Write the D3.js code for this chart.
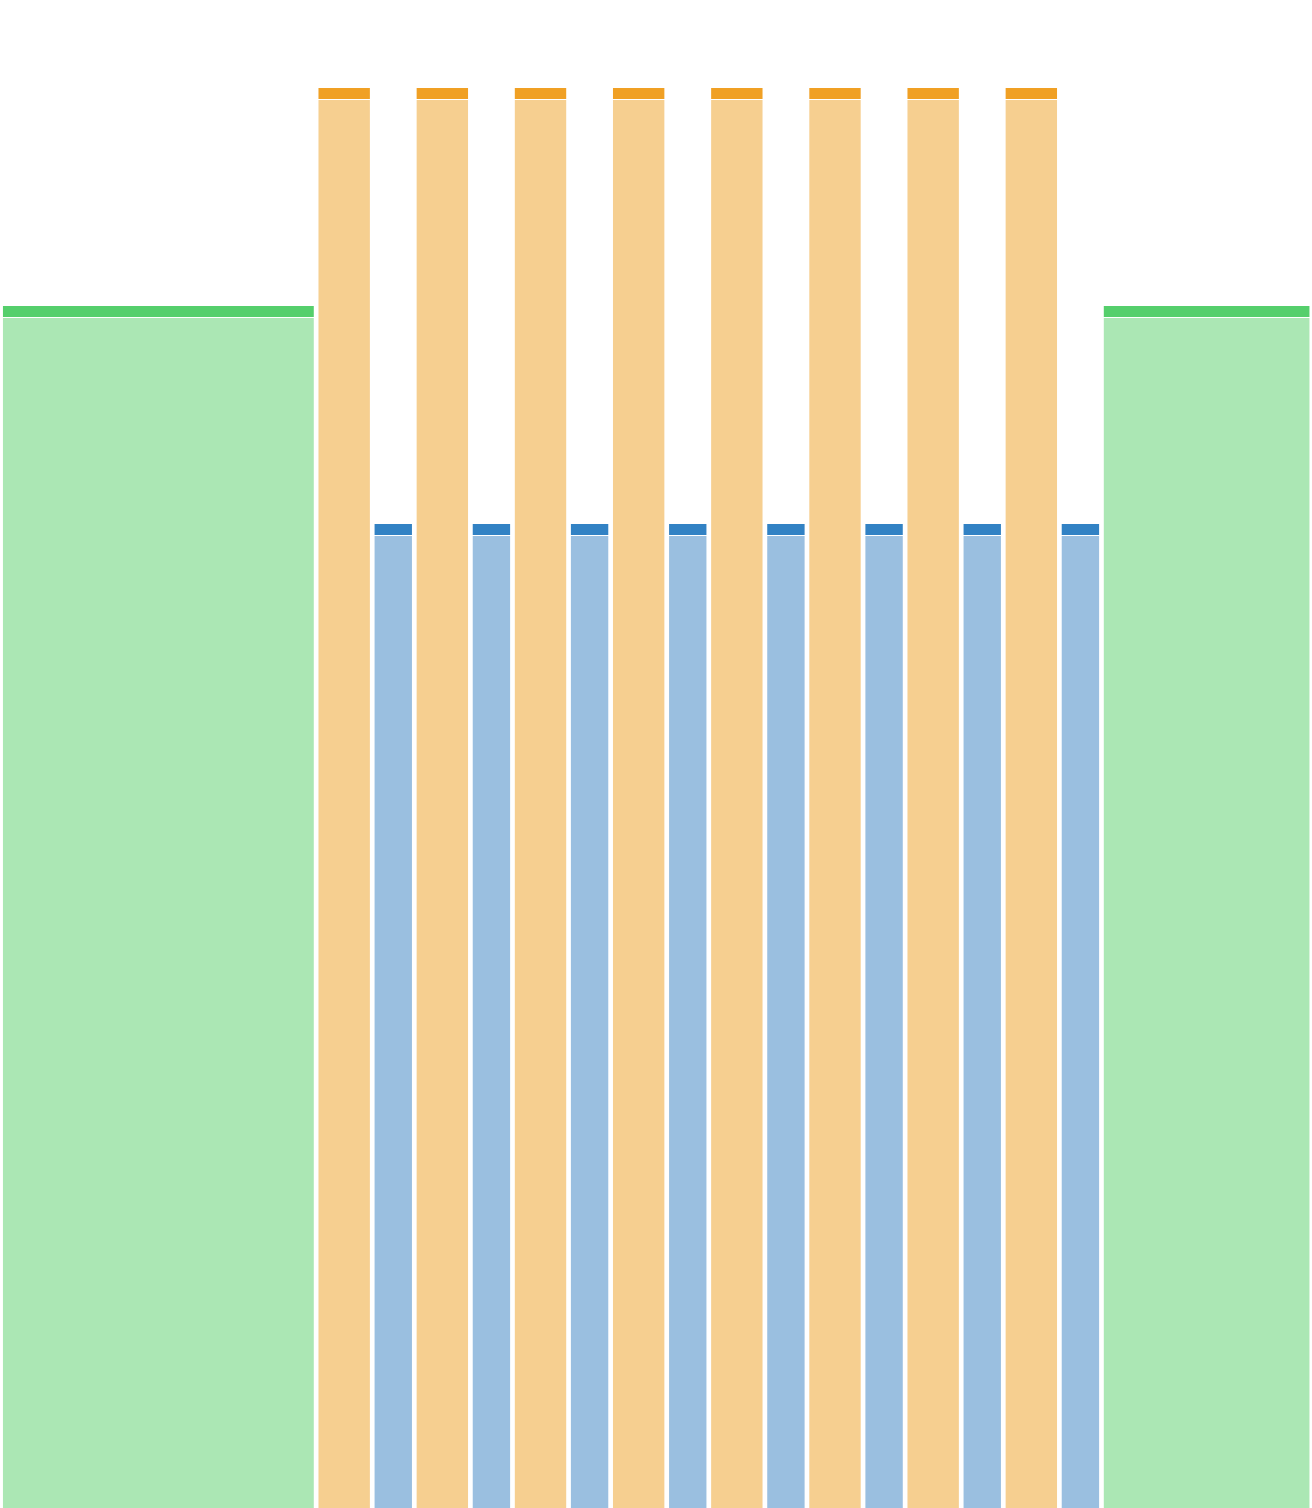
<!DOCTYPE html>
<html>
<head>
<meta charset="UTF-8">
<title>Bars</title>
<script src="https://d3js.org/d3.v7.min.js"></script>
<style>
  html, body { margin: 0; padding: 0; background: #fff; overflow: hidden; }
  svg { display: block; }
</style>
</head>
<body>
<div id="chart"></div>
<script>
// data: one entry per bar, left to right
const categories = ["A", "B1", "C1", "B2", "C2", "B3", "C3", "B4", "C4",
                    "B5", "C5", "B6", "C6", "B7", "C7", "B8", "C8", "D"];
const groups     = ["g", "o", "b", "o", "b", "o", "b", "o", "b",
                    "o", "b", "o", "b", "o", "b", "o", "b", "g"];
const widths     = [22.5, 4, 3, 4, 3, 4, 3, 4, 3, 4, 3, 4, 3, 4, 3, 4, 3, 15];
const values     = [5.5, 6.5, 4.5, 6.5, 4.5, 6.5, 4.5, 6.5, 4.5,
                    6.5, 4.5, 6.5, 4.5, 6.5, 4.5, 6.5, 4.5, 5.5];

const capColor   = { g: "#55cf6c", o: "#f0a024", b: "#3282c4" };
const fillColor  = { g: "#abe7b4", o: "#f6cf90", b: "#9abfe0" };

const width = 1312, height = 1508;
const gap = 4.7, capH = 11;

const svg = d3.select("#chart").append("svg")
  .attr("width", width)
  .attr("height", height);

// cumulative x positions
let acc = 0;
const bars = categories.map((c, i) => {
  const d = { cat: c, grp: groups[i], x0: acc, x1: acc + widths[i], v: values[i] };
  acc += widths[i];
  return d;
});

const x = d3.scaleLinear().domain([0, acc]).range([0.6, width - 0.2]);
const y = d3.scaleLinear().domain([0, 6.5]).range([1505, 88]);

const g = svg.append("g");

// light body, runs to the bottom of the page
g.selectAll("rect.body")
  .data(bars)
  .join("rect")
  .attr("class", "body")
  .attr("x", d => x(d.x0) + gap / 2)
  .attr("width", d => x(d.x1) - x(d.x0) - gap)
  .attr("y", d => y(d.v) + capH + 1)
  .attr("height", d => height - y(d.v) - capH - 1)
  .attr("fill", d => fillColor[d.grp]);

// dark cap on top
g.selectAll("rect.cap")
  .data(bars)
  .join("rect")
  .attr("class", "cap")
  .attr("x", d => x(d.x0) + gap / 2)
  .attr("width", d => x(d.x1) - x(d.x0) - gap)
  .attr("y", d => y(d.v))
  .attr("height", capH)
  .attr("fill", d => capColor[d.grp]);
</script>
</body>
</html>
